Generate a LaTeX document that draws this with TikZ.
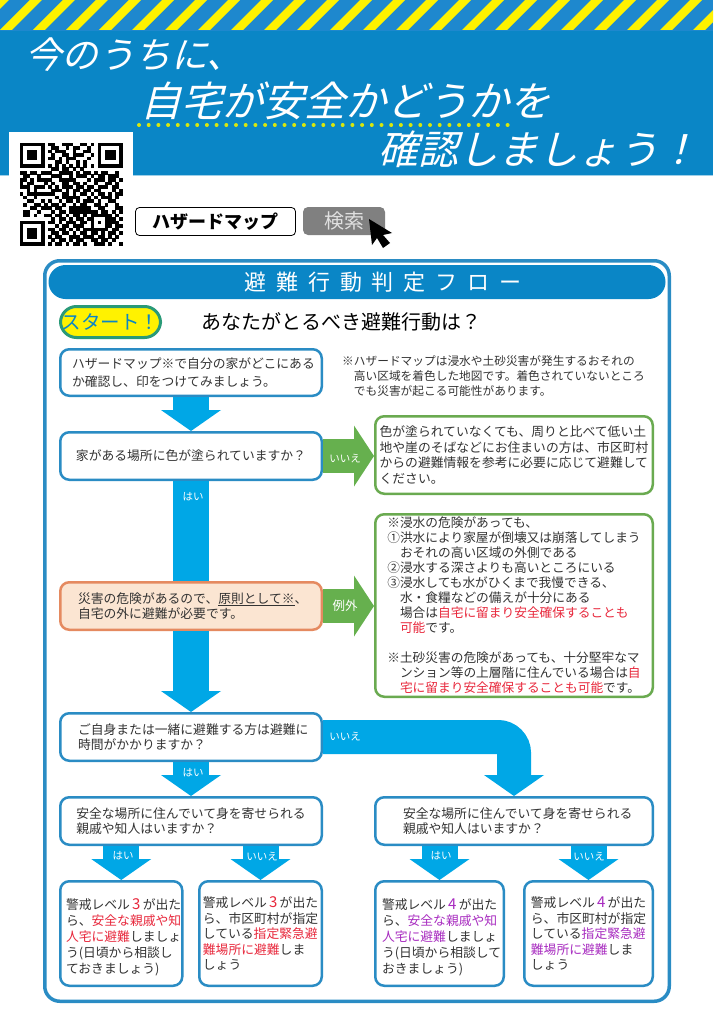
\documentclass[tikz,border=0pt]{standalone}
\usepackage{fontspec}
\usepackage{xcolor}
\usetikzlibrary{arrows.meta}
\setmainfont{Noto Sans CJK JP}
\newfontfamily\slantfont[FakeSlant=0.25]{Noto Sans CJK JP}
\definecolor{bannerblue}{HTML}{0A86C6}
\definecolor{stripeblue}{HTML}{1E88CE}
\definecolor{frameblue}{HTML}{2A8CC4}
\definecolor{arrowblue}{HTML}{00A7E6}
\definecolor{arrowgreen}{HTML}{66B04E}
\definecolor{boxgreen}{HTML}{6AAA50}
\definecolor{badgegreen}{HTML}{2A9A78}
\definecolor{warmfill}{HTML}{FBE5D2}
\definecolor{warmline}{HTML}{E58A60}
\definecolor{textgrey}{HTML}{333333}
\definecolor{alertred}{HTML}{E8283C}
\definecolor{alertpurple}{HTML}{A82CC0}
\tikzset{
  titletext/.style={anchor=west, inner sep=0, text=white, font=\slantfont\fontsize{#1}{#1}\selectfont},
  flowbox/.style={draw=frameblue, line width=2.5, rounded corners=9, fill=white, text=textgrey,
    anchor=north west, align=left, inner sep=0, font=\fontsize{12.8}{15.5}\selectfont},
  greenbox/.style={flowbox, draw=boxgreen},
  warmbox/.style={flowbox, draw=warmline, fill=warmfill},
  bluearrow/.style={draw=arrowblue, line width=36, -{Triangle[width=60pt,length=21pt,line width=0pt]}},
  greenarrow/.style={draw=arrowgreen, line width=34, -{Triangle[width=61pt,length=20pt,line width=0pt]}},
  flowlabel/.style={text=white, inner sep=0, font=\fontsize{10.5}{12}\selectfont},
}
\newcommand{\redtext}[1]{\textcolor{alertred}{#1}}
\newcommand{\purpletext}[1]{\textcolor{alertpurple}{#1}}
\newcommand{\levelnum}[1]{\makebox[12.8pt]{\fontsize{15}{15}\selectfont #1}}
\newcount\qrcol
\newcount\qrrow
\def\qrline#1{\qrcol=0 \qrscan#1.\advance\qrrow by 1 }
\def\qrscan#1{\ifx#1.\else\if#11\fill[black] ({19.5+3.55*\the\qrcol},{142.5+3.55*\the\qrrow}) rectangle ++(3.7,3.7);\fi\advance\qrcol by 1 \expandafter\qrscan\fi}

\begin{document}
\begin{tikzpicture}[x=1pt, y=-1pt]
  \useasboundingbox (0,0) rectangle (713,1030);

  \fill[stripeblue] (0,0) rectangle (713,31);
  \begin{scope}
    \clip (0,0) rectangle (713,30);
    \foreach \n in {-1,...,21}
      \fill[yellow] ({33*\n},30) -- ({33*\n+12},30) -- ({33*\n+42},0) -- ({33*\n+30},0) -- cycle;
  \end{scope}
  \fill[bannerblue] (0,31) rectangle (713,175);
  \draw[white!60!bannerblue] (0,175.5) -- (713,175.5);
  \node[titletext=36.5] (titlea) at (25,55) {今のうちに、};
  \node[titletext=41] (titleb) at (140,101) {自宅が安全かどうかを};
  \node[titletext=40] (titlec) at (378,149) {確認しましょう！};
  \draw[draw=yellow!85!green, line width=4, line cap=round, dash pattern=on 0pt off 9.7pt] (139,125) -- (516,125);

  \fill[white] (9,132) rectangle (133,250);
  \qrrow=0
  \qrline{11111110110011100110101111111}
  \qrline{10000010011001011001001000001}
  \qrline{10111010101110010011001011101}
  \qrline{10111010010011011100101011101}
  \qrline{10111010110101110001001011101}
  \qrline{10000010001101001010001000001}
  \qrline{11111110101010101010101111111}
  \qrline{00000000011011010100000000000}
  \qrline{11011011100111101011010110010}
  \qrline{01100100011100101110101101110}
  \qrline{11010111100111110001011101101}
  \qrline{10110001010011011010010011010}
  \qrline{11101110101011101101101110110}
  \qrline{00101000011101011011011000101}
  \qrline{10111111110011010110101101011}
  \qrline{01001000001011111001010111010}
  \qrline{00110010100101101011101001100}
  \qrline{01001101011010010110011010010}
  \qrline{00011011101100111111001100011}
  \qrline{01100100010110111111110110101}
  \qrline{01101001101101011010111111010}
  \qrline{00000000010110101101100011101}
  \qrline{11111110110101110110101011110}
  \qrline{10000010001011011100100011011}
  \qrline{10111010110110101011111110110}
  \qrline{10111010011011010110110101101}
  \qrline{10111010101100111011101101010}
  \qrline{10000010010110101100110110100}
  \qrline{11111110101101011010011101001}

  \node[draw=black, fill=white, rounded corners=4, line width=.8, minimum width=160, minimum height=28,
    inner sep=0, font=\bfseries\fontsize{18}{18}\selectfont] (searchword) at (215.5,221.5) {ハザードマップ};
  \node[fill=black!50, rounded corners=5, minimum width=82, minimum height=28, inner sep=0,
    text=black!12, font=\fontsize{20}{20}\selectfont] (searchbutton) at (344,221) {検索};
  \fill[black] (369,219) -- (372,245) -- (377,238) -- (383,248) -- (390,243) -- (383,235) -- (392,233) -- cycle;

  \node[draw=frameblue, line width=3.5, rounded corners=15, fill=white, minimum width=624.5, minimum height=740.5] (flowframe) at (357,631) {};
  \node[fill=bannerblue, rounded corners=17, minimum width=617, minimum height=34, inner sep=0, text=white,
    font=\fontsize{22}{22}\selectfont\addfontfeature{LetterSpace=45}] (flowtitle) at (357,282) {\hspace*{52pt}避難行動判定フロー};
  \node[draw=badgegreen, line width=3, rounded corners=16, fill=yellow, minimum width=100, minimum height=31, inner sep=0,
    text=bannerblue, font=\fontsize{19.5}{20}\selectfont] (startbadge) at (110.5,322) {スタート！};
  \node[anchor=west, inner sep=0, text=black, font=\fontsize{20}{20}\selectfont] (headline) at (201,322) {あなたがとるべき避難行動は？};

  \node[flowbox, minimum height=46.5, inner xsep=11.75, text width=238] (mapbox) at (59,348) {ハザードマップ※で自分の家がどこにある\\[2pt]か確認し、印をつけてみましょう。};
  \node[anchor=west, inner sep=0, align=left, text=textgrey, font=\fontsize{11.7}{15}\selectfont] (mapnote) at (342,376)
    {※ハザードマップは浸水や土砂災害が発生するおそれの\\
     \hspace*{1em}高い区域を着色した地図です。着色されていないところ\\
     \hspace*{1em}でも災害が起こる可能性があります。};
  \node[flowbox, minimum width=261.5, minimum height=47.5] (housebox) at (59,431) {家がある場所に色が塗られていますか？};
  \node[greenbox, minimum width=277.5, minimum height=77.5] (nocolorbox) at (374,415)
    {色が塗られていなくても、周りと比べて低い土\\
     地や崖のそばなどにお住まいの方は、市区町村\\
     からの避難情報を参考に必要に応じて避難して\\
     ください。};
  \node[warmbox, minimum height=47.5, inner xsep=17.75, text width=226] (warnbox) at (59,581)
    {災害の危険があるので、\underline{原則として※}、\\自宅の外に避難が必要です。};
  \node[greenbox, minimum width=277.5, minimum height=182.5, font=\fontsize{12.7}{15}\selectfont] (exceptbox) at (374,513)
    {※浸水の危険があっても、\\
     ①洪水により家屋が倒壊又は崩落してしまう\\
     \hspace*{1em}おそれの高い区域の外側である\\
     ②浸水する深さよりも高いところにいる\\
     ③浸水しても水がひくまで我慢できる、\\
     \hspace*{1em}水・食糧などの備えが十分にある\\
     \hspace*{1em}場合は\redtext{自宅に留まり安全確保することも}\\
     \hspace*{1em}\redtext{可能}です。\\[15pt]
     ※土砂災害の危険があっても、十分堅牢なマ\\
     \hspace*{1em}ンション等の上層階に住んでいる場合は\redtext{自}\\
     \hspace*{1em}\redtext{宅に留まり安全確保することも可能}です。};
  \node[flowbox, minimum height=47.5, inner xsep=17.75, text width=226] (askbox) at (59,712)
    {ご自身または一緒に避難する方は避難に\\時間がかかりますか？};
  \node[flowbox, minimum width=261.5, minimum height=47.5] (relativeleft) at (59,796)
    {安全な場所に住んでいて身を寄せられる\\親戚や知人はいますか？};
  \node[flowbox, minimum height=47.5, inner xsep=27.75, text width=222] (relativeright) at (374,796)
    {安全な場所に住んでいて身を寄せられる\\親戚や知人はいますか？};

  \node[flowbox, minimum height=104.5, inner xsep=5.75, text width=110.5, font=\fontsize{12.8}{16}\selectfont] (levelthreehome) at (59,880)
    {\rule{0pt}{19.3pt}警戒レベル\redtext{\levelnum{3}}が出た\\ら、\redtext{安全な親戚や知}\\\redtext{人宅に避難}しましょ\\う(日頃から相談し\\ておきましょう)};
  \node[flowbox, minimum width=122.5, minimum height=104.5] (levelthreeshelter) at (198,880)
    {警戒レベル\redtext{\levelnum{3}}が出た\\ら、市区町村が指定\\している\redtext{指定緊急避}\\\redtext{難場所に避難}しま\\しょう};
  \node[flowbox, minimum height=104.5, inner xsep=6.75, text width=115, font=\fontsize{12.8}{16}\selectfont] (levelfourhome) at (374,880)
    {\rule{0pt}{19.3pt}警戒レベル\purpletext{\levelnum{4}}が出た\\ら、\purpletext{安全な親戚や知}\\\purpletext{人宅に避難}しましょ\\う(日頃から相談して\\おきましょう)};
  \node[flowbox, minimum width=128.5, minimum height=104.5] (levelfourshelter) at (523,880)
    {警戒レベル\purpletext{\levelnum{4}}が出た\\ら、市区町村が指定\\している\purpletext{指定緊急避}\\\purpletext{難場所に避難}しま\\しょう};

  \draw[bluearrow] (mapbox.south) -- (housebox.north);
  \draw[bluearrow, -] (housebox.south) -- (warnbox.north);
  \draw[bluearrow] (warnbox.south) -- (askbox.north);
  \draw[bluearrow] (askbox.south) -- (relativeleft.north);
  \draw[bluearrow, line width=34, rounded corners=16] (askbox.east) -| (relativeright.north);
  \draw[bluearrow] (relativeleft.south -| levelthreehome.north) -- (levelthreehome.north);
  \draw[bluearrow] (relativeleft.south -| levelthreeshelter.north) -- (levelthreeshelter.north);
  \draw[bluearrow] (relativeright.south -| levelfourhome.north) -- (levelfourhome.north);
  \draw[bluearrow] (relativeright.south -| levelfourshelter.north) -- (levelfourshelter.north);
  \draw[greenarrow] (housebox.east) -- (housebox.east -| nocolorbox.west);
  \draw[greenarrow] (warnbox.east) -- (warnbox.east -| exceptbox.west);

  \node[flowlabel] (noa) at (345,459) {いいえ};
  \node[flowlabel] (yesa) at (193,497) {はい};
  \node[flowlabel, font=\fontsize{12.5}{13}\selectfont] (exception) at (345,606) {例外};
  \node[flowlabel] (nob) at (345,737) {いいえ};
  \node[flowlabel] (yesb) at (193,773) {はい};
  \node[flowlabel] (yesc) at (123,856) {はい};
  \node[flowlabel] (noc) at (262,857) {いいえ};
  \node[flowlabel] (yesd) at (441,856) {はい};
  \node[flowlabel] (nod) at (589,857) {いいえ};
\end{tikzpicture}
\end{document}
